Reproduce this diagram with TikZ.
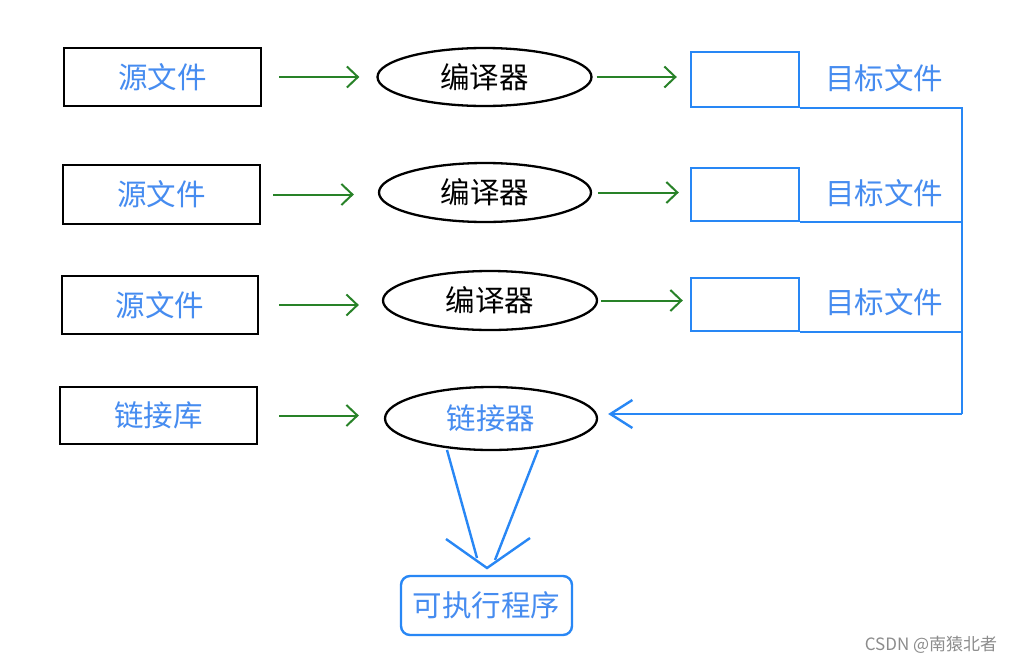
\documentclass[tikz,border=0pt]{standalone}
\usepackage{fontspec}
\newfontfamily\cjk{Noto Sans CJK SC}
\usetikzlibrary{shapes.geometric,arrows.meta}
\definecolor{myblue}{RGB}{40,135,245}
\definecolor{txtblue}{RGB}{70,140,240}
\definecolor{mygreen}{RGB}{40,130,40}
\begin{document}
\begin{tikzpicture}[x=1pt,y=-1pt,
  big/.style={font=\cjk\fontsize{29.5}{31}\selectfont},
  srcbox/.style={big,draw=black,line width=2.3pt,minimum width=197pt,minimum height=58pt,inner sep=0pt,text=txtblue},
  comp/.style={big,ellipse,draw=black,line width=2.3pt,minimum width=214pt,minimum height=58pt,inner sep=0pt,text=black},
  tgtbox/.style={draw=myblue,line width=2.4pt,minimum width=108pt,minimum height=55pt,inner sep=0pt},
  lbl/.style={big,text=txtblue,inner sep=0pt},
  garrow/.style={draw=mygreen,line width=2pt,-{Straight Barb[length=11pt,width=21pt]}},
  bline/.style={draw=myblue,line width=2.4pt},
  barrow/.style={bline,-{Straight Barb[length=22pt,width=28pt]}},
  exebox/.style={big,draw=myblue,line width=2.4pt,rounded corners=9pt,minimum width=171pt,minimum height=59pt,inner sep=0pt,text=txtblue}
]
\useasboundingbox (0,0) rectangle (1016,664);
\fill[white] (0,0) rectangle (1016,664);
% row 1
\node[srcbox] (s1) at (162.5,77) {源文件};
\node[comp] (c1) at (484.5,77) {编译器};
\node[tgtbox] (t1) at (745,79.5) {};
\node[lbl] (l1) at (884,78) {目标文件};
\draw[garrow,shorten <=17pt,shorten >=17pt] (s1.east) -- (c1.west);
\draw[garrow,shorten <=4pt,shorten >=13pt] (c1.east) -- (c1.east -| t1.west);
% row 2
\node[srcbox,minimum height=59pt] (s2) at (161.5,194.5) {源文件};
\node[comp,minimum width=212pt,minimum height=59pt] (c2) at (485,192.5) {编译器};
\node[tgtbox,minimum height=53pt] (t2) at (745,194.5) {};
\node[lbl] (l2) at (884,193) {目标文件};
\draw[garrow,shorten <=12pt,shorten >=24pt] (s2.east) -- (s2.east -| c2.west);
\draw[garrow,shorten <=6pt,shorten >=11pt] (c2.east) -- (c2.east -| t2.west);
% row 3
\node[srcbox,minimum width=196pt] (s3) at (160,305) {源文件};
\node[comp,minimum height=59pt] (c3) at (490,300.5) {编译器};
\node[tgtbox,minimum height=53pt] (t3) at (745,304.5) {};
\node[lbl] (l3) at (884,302) {目标文件};
\draw[garrow,shorten <=20pt,shorten >=23pt] (s3.east) -- (s3.east -| c3.west);
\draw[garrow,shorten <=3pt,shorten >=7pt] (c3.east) -- (c3.east -| t3.west);
% row 4
\node[srcbox,minimum height=57pt] (s4) at (158.5,415.5) {链接库};
\node[comp,minimum width=212pt,minimum height=63pt,text=txtblue] (c4) at (491,418.5) {链接器};
\draw[garrow,shorten <=21pt,shorten >=25pt] (s4.east) -- (s4.east -| c4.west);
% bus
\coordinate (bus) at (962,414);
\draw[bline] (t1.south east) -| (bus);
\draw[bline] (t2.south east) -- (t2.south east -| bus);
\draw[bline] (t3.south east) -- (t3.south east -| bus);
\draw[barrow,shorten >=10pt] (bus) -- (bus -| c4.east);
% executable
\node[exebox] (exe) at (486.5,605.5) {可执行程序};
\coordinate (a1) at (447,450);
\coordinate (a2) at (538,450);
\coordinate (e1) at (477,558);
\coordinate (e2) at (495,560);
\coordinate (h1) at (446,539);
\coordinate (h2) at (530,538);
\coordinate (tip) at (487,568);
\draw[bline] (a1) -- (e1);
\draw[bline] (a2) -- (e2);
\draw[bline] (h1) -- (tip) -- (h2);
% watermark
\node[font=\cjk\fontsize{17}{18}\selectfont,text=black!45,inner sep=0pt] (wm) at (931,645) {CSDN @南猿北者};
\end{tikzpicture}
\end{document}
